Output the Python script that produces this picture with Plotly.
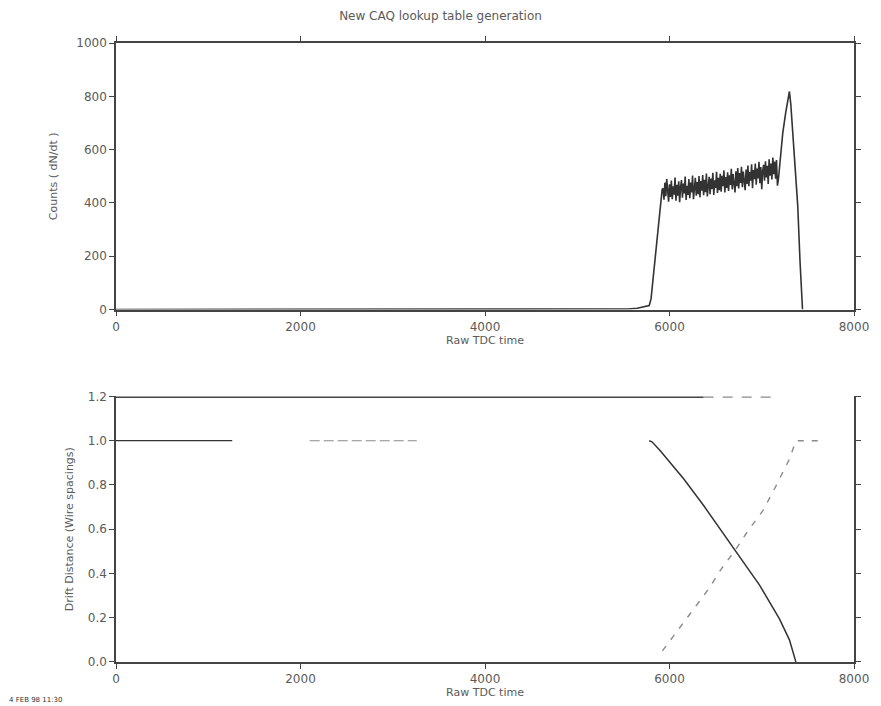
import plotly.graph_objects as go

# ---------------- data: top panel (histogram of raw TDC times) ----------------
head_x = [0, 5400, 5550, 5650, 5700, 5740, 5780, 5800, 5835, 5860, 5890, 5920]
head_y = [0, 0, 2, 5, 9, 13, 15, 40, 162, 260, 362, 450]

band_start = 5930
band_step = 10
band_y = [
    455, 412, 476, 425, 490, 436, 405, 470, 422, 484,
    414, 462, 431, 495, 408, 468, 427, 481, 403, 460,
    486, 420, 473, 436, 499, 411, 464, 430, 490, 418,
    476, 439, 503, 414, 468, 494, 427, 478, 433, 501,
    421, 482, 446, 505, 429, 487, 440, 510, 424, 476,
    498, 433, 491, 452, 513, 430, 485, 456, 517, 437,
    494, 448, 509, 442, 502, 463, 522, 439, 497, 456,
    515, 445, 504, 467, 528, 451, 508, 472, 439, 519,
    463, 531, 454, 512, 475, 536, 459, 518, 481, 448,
    525, 471, 540, 463, 516, 484, 545, 455, 523, 489,
    548, 468, 529, 492, 554, 474, 535, 451, 520, 543,
    483, 556, 496, 539, 471, 564, 502, 548, 488, 570,
    508, 555, 491, 561, 465,
]

tail_x = [7180, 7200, 7228, 7260, 7290, 7300, 7315, 7330, 7355, 7390, 7415, 7442]
tail_y = [487, 560, 663, 740, 800, 818, 770, 700, 575, 390, 180, 0]

# ---------------- data: bottom panel (drift distance lookup) ----------------
drift_solid_x = [5780, 5810, 5900, 6000, 6155, 6370, 6710, 6978, 7192, 7300, 7370]
drift_solid_y = [1.0, 0.995, 0.955, 0.905, 0.827, 0.707, 0.504, 0.346, 0.195, 0.10, 0.0]

drift_dash_x = [5923, 6100, 6263, 6424, 6560, 6710, 6852, 7013, 7156, 7300, 7370, 7640]
drift_dash_y = [0.05, 0.15, 0.24, 0.33, 0.42, 0.504, 0.594, 0.684, 0.797, 0.917, 1.0, 1.0]

level1_solid_x = [0, 1260]
level1_solid_y = [1.0, 1.0]
level1_dash_x = [2100, 3260]
level1_dash_y = [1.0, 1.0]

border_solid_x = [0, 6370]
border_solid_y = [1.2, 1.2]
border_dash_x = [6370, 7175]
border_dash_y = [1.2, 1.2]

x_ticks = [0, 2000, 4000, 6000, 8000]
counts_ticks = [0, 200, 400, 600, 800, 1000]
drift_ticks = [0.0, 0.2, 0.4, 0.6, 0.8, 1.0, 1.2]

title_text = "New CAQ lookup table generation"
x_title = "Raw TDC time"
counts_title = "Counts ( dN/dt )"
drift_title = "Drift Distance (Wire spacings)"
footnote = "4 FEB 98 11:30"

# ---------------- build ----------------
band_x = [band_start + i * band_step for i in range(len(band_y))]
top_x = head_x + band_x + tail_x
top_y = head_y + band_y + tail_y

INK = "#333333"
LIGHT = "#8a8a8a"
TXT = "#5a5a5a"
FONT = "DejaVu Sans"

fig = go.Figure()
fig.add_trace(go.Scatter(x=top_x, y=top_y, mode="lines",
                         line=dict(color=INK, width=1.6), xaxis="x", yaxis="y",
                         showlegend=False, hoverinfo="skip"))

fig.add_trace(go.Scatter(x=border_solid_x, y=border_solid_y, mode="lines",
                         line=dict(color="#444444", width=3), xaxis="x2", yaxis="y2",
                         showlegend=False))
fig.add_trace(go.Scatter(x=border_dash_x, y=border_dash_y, mode="lines",
                         line=dict(color=LIGHT, width=2.4, dash="10px,9px"),
                         xaxis="x2", yaxis="y2", showlegend=False))
fig.add_trace(go.Scatter(x=level1_solid_x, y=level1_solid_y, mode="lines",
                         line=dict(color=INK, width=1.3), xaxis="x2", yaxis="y2",
                         showlegend=False))
fig.add_trace(go.Scatter(x=level1_dash_x, y=level1_dash_y, mode="lines",
                         line=dict(color=LIGHT, width=1.1, dash="10px,4px"),
                         xaxis="x2", yaxis="y2", showlegend=False))
fig.add_trace(go.Scatter(x=drift_solid_x, y=drift_solid_y, mode="lines",
                         line=dict(color=INK, width=1.5), xaxis="x2", yaxis="y2",
                         showlegend=False))
fig.add_trace(go.Scatter(x=drift_dash_x, y=drift_dash_y, mode="lines",
                         line=dict(color=LIGHT, width=1.4, dash="6px,8px"),
                         xaxis="x2", yaxis="y2", showlegend=False))

axis_common = dict(showgrid=False, zeroline=False, showline=True,
                   linecolor="#444444", linewidth=1.5, ticks="outside",
                   ticklen=5, tickcolor="#444444",
                   tickfont=dict(family=FONT, size=12, color=TXT))

fig.update_layout(
    width=881, height=706,
    margin=dict(l=116, r=19, t=43, b=43),
    paper_bgcolor="white", plot_bgcolor="white",
    title=dict(text=title_text, x=0.5, xref="container", xanchor="center",
               y=1 - 16 / 706, yref="container", yanchor="middle",
               font=dict(family=FONT, size=12, color=TXT)),
    xaxis=dict(axis_common, domain=[0, 1], range=[0, 8000], tickvals=x_ticks,
               anchor="y", mirror="ticks",
               title=dict(text=x_title, standoff=0,
                          font=dict(family=FONT, size=11, color=TXT))),
    yaxis=dict(axis_common, domain=[0.5694, 1], range=[0, 1000],
               tickvals=counts_ticks, anchor="x", mirror="ticks",
               title=dict(text=counts_title, standoff=16,
                          font=dict(family=FONT, size=11, color=TXT))),
    xaxis2=dict(axis_common, domain=[0, 1], range=[0, 8000], tickvals=x_ticks,
                anchor="y2", mirror=False,
                title=dict(text=x_title, standoff=0,
                           font=dict(family=FONT, size=11, color=TXT))),
    yaxis2=dict(axis_common, domain=[0, 0.429], range=[0, 1.2],
                tickvals=drift_ticks, tickformat=".1f", anchor="x2",
                mirror="ticks",
                title=dict(text=drift_title, standoff=12,
                           font=dict(family=FONT, size=11, color=TXT))),
    annotations=[dict(text=footnote, xref="paper", yref="paper",
                      x=-0.148, y=-0.062, xanchor="left", yanchor="middle",
                      showarrow=False,
                      font=dict(family=FONT, size=7, color="#333333"))],
)

fig.write_html("out.html")
